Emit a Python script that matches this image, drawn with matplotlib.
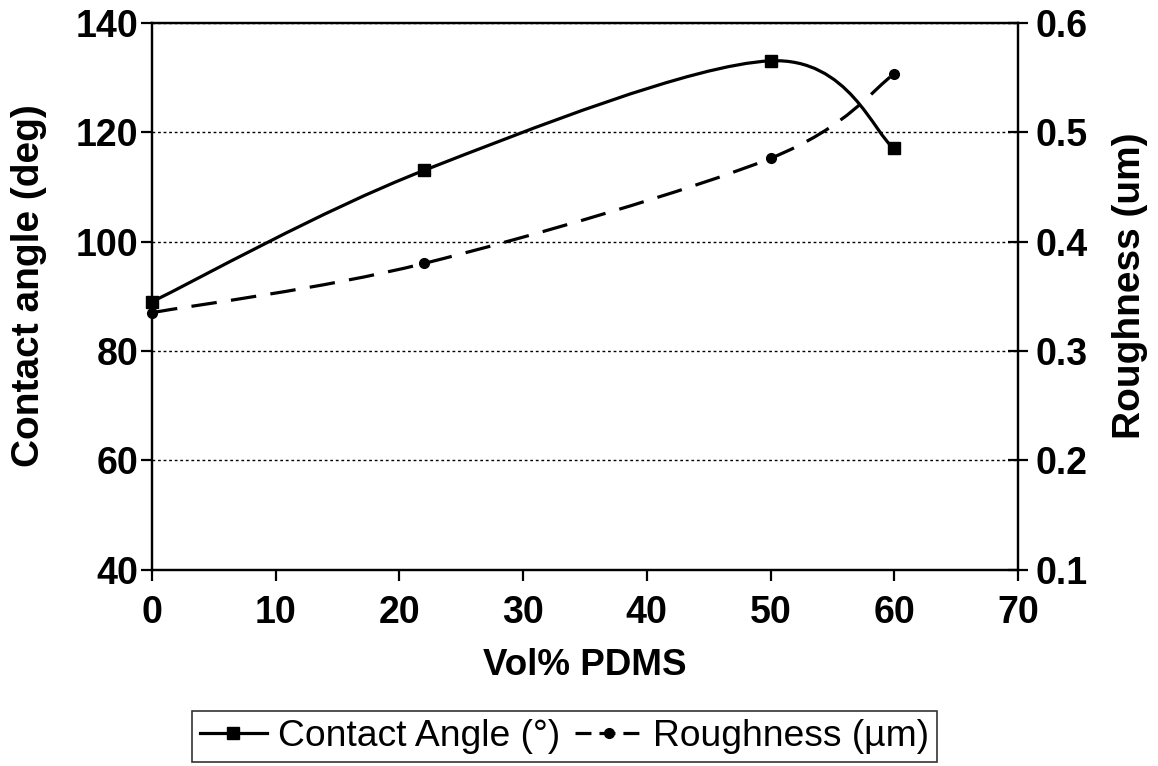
import numpy as np
import matplotlib
matplotlib.use("Agg")
import matplotlib.pyplot as plt
from matplotlib.path import Path
from matplotlib.patches import PathPatch
from matplotlib.lines import Line2D

# ---- data ----
vol_pdms = [0, 22, 50, 60]
contact_angle = [89, 113, 133, 117]
roughness = [0.335, 0.38, 0.476, 0.553]

x_ticks = [0, 10, 20, 30, 40, 50, 60, 70]
left_ticks = [40, 60, 80, 100, 120, 140]
right_ticks = [0.1, 0.2, 0.3, 0.4, 0.5, 0.6]

x_label = "Vol% PDMS"
left_label = "Contact angle (deg)"
right_label = "Roughness (um)"
legend_labels = ["Contact Angle (°)", "Roughness (µm)"]

plt.rcParams['font.family'] = ['Liberation Sans', 'DejaVu Sans']


def smooth_path(xs, ys):
    """Excel-style smoothed line as cubic Bezier path (Catmull-Rom)."""
    pts = np.column_stack([xs, ys]).astype(float)
    n = len(pts)
    verts = [pts[0]]
    codes = [Path.MOVETO]
    for i in range(n - 1):
        p0 = pts[i - 1] if i > 0 else pts[i]
        p1 = pts[i]
        p2 = pts[i + 1]
        p3 = pts[i + 2] if i + 2 < n else pts[i + 1]
        c1 = p1 + (p2 - p0) / 6.0
        c2 = p2 - (p3 - p1) / 6.0
        verts += [c1, c2, p2]
        codes += [Path.CURVE4] * 3
    return Path(verts, codes)


fig = plt.figure(figsize=(11.58, 7.66), dpi=100)
ax = fig.add_axes([0.1313, 0.2559, 0.879 - 0.1313, 0.9706 - 0.2559])
ax2 = ax.twinx()

lw = 2.3
ax.add_patch(PathPatch(smooth_path(vol_pdms, contact_angle), fill=False,
                       edgecolor='black', lw=lw, zorder=3))
ax.plot(vol_pdms, contact_angle, linestyle='none', marker='s', ms=8,
        color='black', zorder=4, clip_on=False)

ax2.add_patch(PathPatch(smooth_path(vol_pdms, roughness), fill=False,
                        edgecolor='black', lw=lw, linestyle=(0, (8, 4.5)), zorder=3))
ax2.plot(vol_pdms, roughness, linestyle='none', marker='o', ms=7,
         color='black', zorder=4, clip_on=False)

ax.set_xlim(0, 70)
ax.set_ylim(40, 140)
ax2.set_ylim(0.1, 0.6)
ax.set_xticks(x_ticks)
ax.set_yticks(left_ticks)
ax2.set_yticks(right_ticks)
ax2.set_yticklabels([f"{v:.1f}" for v in right_ticks])

for a in (ax, ax2):
    for s in a.spines.values():
        s.set_linewidth(1.6)
        s.set_color('black')

tick_fs = 27
ax.tick_params(axis='both', labelsize=tick_fs, width=1.6, length=8, direction='out',
               colors='black')
ax.tick_params(axis='x', pad=10)
ax.tick_params(axis='y', pad=2)
ax2.tick_params(axis='y', labelsize=tick_fs, width=1.6, length=14, direction='inout',
                pad=6)
for lab in ax.get_xticklabels() + ax.get_yticklabels() + ax2.get_yticklabels():
    lab.set_fontweight('bold')

ax.yaxis.grid(True, linestyle=(0, (2, 2)), color='black', lw=1.0)
ax.set_axisbelow(True)

ax.set_xlabel(x_label, fontsize=26.5, fontweight='bold', labelpad=12)
ax.set_ylabel(left_label, fontsize=28, fontweight='bold')
ax2.set_ylabel(right_label, fontsize=28, fontweight='bold')
ax.yaxis.set_label_coords(-0.121, 0.52)
ax2.yaxis.set_label_coords(1.1085, 0.52)

handles = [
    Line2D([], [], color='black', lw=lw, marker='s', ms=8),
    Line2D([], [], color='black', lw=lw, marker='o', ms=7, linestyle=(0, (5, 2.5))),
]
leg = fig.legend(handles, legend_labels, loc='upper center',
                 bbox_to_anchor=(0.4875, 0.072), ncol=2, fontsize=26.8,
                 frameon=True, fancybox=False, edgecolor='black',
                 handlelength=1.8, handletextpad=0.3, columnspacing=0.4,
                 borderpad=0.22, borderaxespad=0)
leg.get_frame().set_linewidth(1.2)

fig.savefig("out.png", dpi=100)
